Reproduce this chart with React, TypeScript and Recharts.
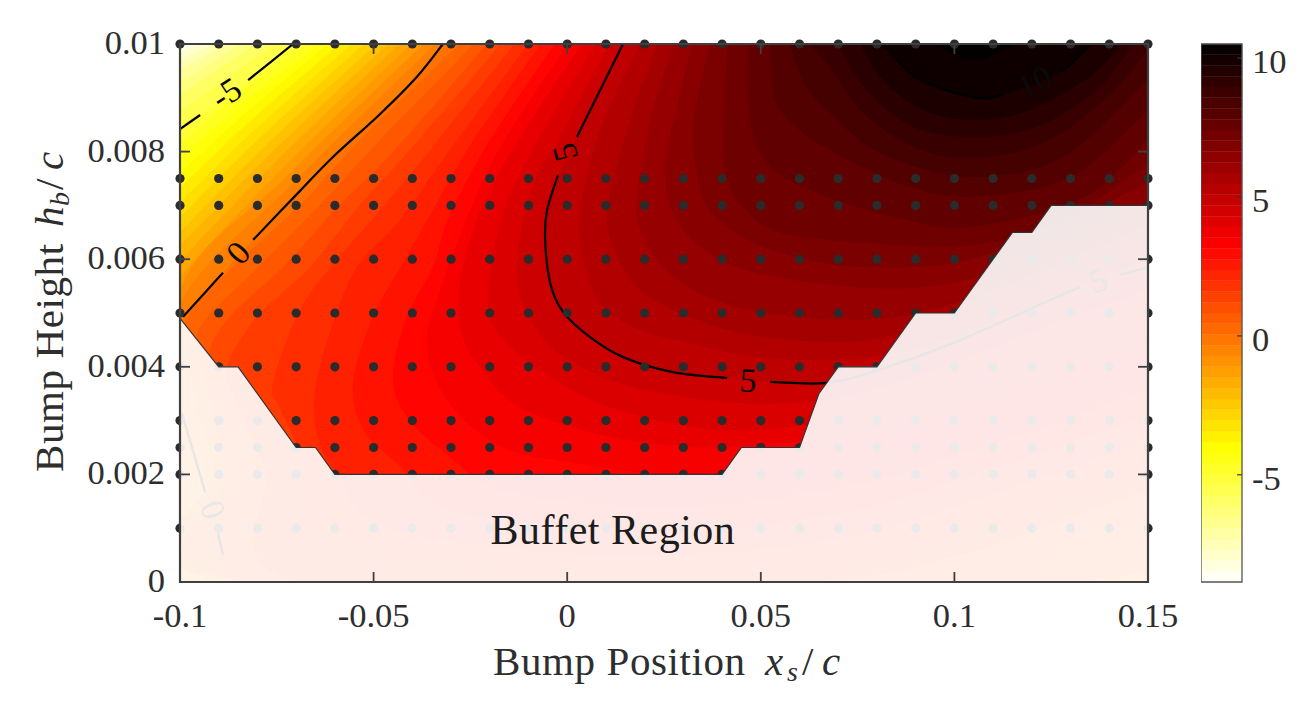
import React from 'react';
import { ScatterChart, Scatter, XAxis, YAxis, Label } from 'recharts';

const FONT = '"Liberation Serif", serif';
const INK = '#2e2e2e';

const xTicks = [-0.1, -0.05, 0, 0.05, 0.1, 0.15];
const xTickLabels = ['-0.1', '-0.05', '0', '0.05', '0.1', '0.15'];
const yTicks = [0, 0.002, 0.004, 0.006, 0.008, 0.01];
const yTickLabels = ['0', '0.002', '0.004', '0.006', '0.008', '0.01'];
const barTicks = [-5, 0, 5, 10];

// simulation points
const sampleX = [-0.1, -0.09, -0.08, -0.07, -0.06, -0.05, -0.04, -0.03, -0.02, -0.01, 0, 0.01, 0.02, 0.03, 0.04, 0.05, 0.06, 0.07, 0.08, 0.09, 0.1, 0.11, 0.12, 0.13, 0.14, 0.15];
const sampleY = [0.001, 0.002, 0.0025, 0.003, 0.004, 0.005, 0.006, 0.007, 0.0075, 0.01];

// contour curves {value >= level} as [x, y]
const cM8_5 = [[-0.0982, 0.01], [-0.1, 0.00994]];
const cM8 = [[-0.0948, 0.01], [-0.1, 0.00985]];
const cM7_5 = [[-0.0915, 0.01], [-0.1, 0.0097]];
const cM7 = [[-0.0884, 0.01], [-0.1, 0.00952]];
const cM6_5 = [[-0.0845, 0.01], [-0.1, 0.00929]];
const cM6 = [[-0.0806, 0.01], [-0.1, 0.00905]];
const cM5_5 = [[-0.0757, 0.01], [-0.1, 0.00874]];
const cM5 = [[-0.0708, 0.01], [-0.0824, 0.00933], [-0.0948, 0.00868], [-0.1, 0.00842]];
const cM4_67 = [[-0.0677, 0.01], [-0.0867, 0.00896], [-0.1, 0.00814]];
const cM4_29 = [[-0.0646, 0.01], [-0.0852, 0.00882], [-0.1, 0.00788]];
const cM3_9 = [[-0.0618, 0.01], [-0.0837, 0.00868], [-0.1, 0.0076]];
const cM3_51 = [[-0.0587, 0.01], [-0.0823, 0.00854], [-0.1, 0.00732]];
const cM3_13 = [[-0.0556, 0.01], [-0.0808, 0.0084], [-0.1, 0.00706]];
const cM2_74 = [[-0.0525, 0.01], [-0.0793, 0.00826], [-0.1, 0.00678]];
const cM2_35 = [[-0.0494, 0.01], [-0.0778, 0.00812], [-0.1, 0.00651]];
const cM1_96 = [[-0.0463, 0.01], [-0.0764, 0.00798], [-0.1, 0.00625]];
const cM1_58 = [[-0.0434, 0.01], [-0.0749, 0.00784], [-0.1, 0.00597]];
const cM1_19 = [[-0.0403, 0.01], [-0.0734, 0.0077], [-0.1, 0.00569]];
const cM0_8 = [[-0.0372, 0.01], [-0.072, 0.00757], [-0.1, 0.00543], [-0.1, 0.00208], [-0.0974, 0]];
const cM0_42 = [[-0.0341, 0.01], [-0.0706, 0.00743], [-0.1, 0.00515], [-0.1, 0.00264], [-0.0961, 0.00115], [-0.0935, 0]];
const c0 = [[-0.0321, 0.01], [-0.0388, 0.00939], [-0.0483, 0.0087], [-0.0605, 0.0079], [-0.069, 0.00727], [-0.0811, 0.00636], [-0.0992, 0.00493], [-0.1, 0.00487], [-0.1, 0.00316], [-0.0935, 0.00167], [-0.0902, 0.00091], [-0.0876, 0]];
const c0_35 = [[-0.0277, 0.01], [-0.0522, 0.00831], [-0.069, 0.00701], [-0.0858, 0.00589], [-0.0982, 0.00491], [-0.0982, 0.00431], [-0.0961, 0.00338], [-0.091, 0.00208], [-0.0845, 0], [0.15, 0.00032]];
const c0_74 = [[-0.0241, 0.01], [-0.0483, 0.00822], [-0.0638, 0.00701], [-0.0793, 0.00589], [-0.0935, 0.00487], [-0.0956, 0.00441], [-0.0935, 0.00375], [-0.0884, 0.00208], [-0.0819, 0], [0.1273, 0], [0.15, 0.00078]];
const c1_13 = [[-0.0207, 0.01], [-0.0445, 0.00803], [-0.0587, 0.00701], [-0.0734, 0.00585], [-0.0863, 0.005], [-0.0923, 0.00431], [-0.0902, 0.00366], [-0.0832, 0.00208], [-0.0755, 0], [0.1014, 0], [0.1247, 0.00059], [0.15, 0.00125]];
const c1_52 = [[-0.0171, 0.01], [-0.0406, 0.00803], [-0.0535, 0.00701], [-0.0664, 0.00585], [-0.0801, 0.00493], [-0.0879, 0.004], [-0.0858, 0.00338], [-0.078, 0.00208], [-0.069, 0], [0.0601, 0], [0.1014, 0.0005], [0.1247, 0.00106], [0.15, 0.00171]];
const c1_9 = [[-0.0137, 0.01], [-0.0354, 0.00803], [-0.0483, 0.00691], [-0.0595, 0.00599], [-0.069, 0.00506], [-0.076, 0.0037], [-0.0742, 0.00325], [-0.069, 0.00245], [-0.0587, 0.00097], [0.0085, 0.00007], [0.0601, 0.00022], [0.1014, 0.00097], [0.1247, 0.00152], [0.15, 0.00217]];
const c2_29 = [[-0.0101, 0.01], [-0.0303, 0.00803], [-0.0432, 0.00673], [-0.0543, 0.00585], [-0.0605, 0.00481], [-0.0651, 0.00357], [-0.0644, 0.0027], [-0.0595, 0.00203], [-0.0458, 0.00097], [0.0085, 0.0005], [0.0395, 0.00056], [0.0601, 0.00069], [0.0808, 0.00097], [0.1014, 0.00143], [0.1247, 0.00199], [0.15, 0.00264]];
const c2_68 = [[-0.0068, 0.01], [-0.0251, 0.00812], [-0.0354, 0.00682], [-0.0424, 0.00593], [-0.0502, 0.00493], [-0.0553, 0.0037], [-0.0527, 0.00283], [-0.044, 0.00221], [-0.0303, 0.00134], [0.0085, 0.00097], [0.0395, 0.00097], [0.0601, 0.00115], [0.0808, 0.00143], [0.1014, 0.0019], [0.1247, 0.00245], [0.15, 0.0031]];
const c3_06 = [[-0.0032, 0.01], [-0.0199, 0.00822], [-0.0303, 0.00682], [-0.0347, 0.00585], [-0.0414, 0.00493], [-0.045, 0.00381], [-0.0414, 0.00307], [-0.0303, 0.00232], [-0.0174, 0.00171], [0.0085, 0.00143], [0.0395, 0.00143], [0.0601, 0.00162], [0.0808, 0.0019], [0.1014, 0.00236], [0.1247, 0.00292], [0.15, 0.00357]];
const c3_45 = [[0.0002, 0.01], [-0.0161, 0.00822], [-0.0251, 0.00691], [-0.0336, 0.00524], [-0.0362, 0.00444], [-0.0336, 0.0037], [-0.0259, 0.00296], [-0.0148, 0.00245], [-0.0001, 0.00223], [0.0188, 0.00204], [0.042, 0.00193], [0.0601, 0.00208], [0.0808, 0.00236], [0.1014, 0.00283], [0.1247, 0.00338], [0.15, 0.00403]];
const c3_84 = [[0.0038, 0.01], [-0.0109, 0.0084], [-0.0199, 0.00729], [-0.0251, 0.00636], [-0.0277, 0.00556], [-0.0277, 0.00474], [-0.0233, 0.00407], [-0.0122, 0.00325], [0.0111, 0.0027], [0.0343, 0.00251], [0.0557, 0.00258], [0.0808, 0.00283], [0.1014, 0.00323], [0.1247, 0.00385], [0.15, 0.0045]];
const c4_23 = [[0.0072, 0.01], [-0.007, 0.00827], [-0.0153, 0.0071], [-0.0199, 0.0058], [-0.0199, 0.00493], [-0.0155, 0.00444], [-0.0044, 0.00381], [0.0129, 0.0032], [0.0387, 0.00283], [0.0627, 0.00292], [0.0808, 0.0032], [0.1014, 0.00366], [0.1247, 0.00431], [0.15, 0.00496]];
const c4_61 = [[0.0108, 0.01], [-0.0019, 0.00827], [-0.0083, 0.00747], [-0.0127, 0.00617], [-0.0122, 0.00533], [-0.0065, 0.00455], [0.0015, 0.00407], [0.017, 0.00362], [0.0428, 0.00333], [0.0653, 0.00338], [0.0808, 0.00361], [0.1014, 0.00413], [0.1247, 0.00478], [0.15, 0.00543]];
const c5 = [[0.0144, 0.01], [0.0025, 0.00827], [-0.0024, 0.00756], [-0.0052, 0.00691], [-0.0057, 0.00636], [-0.0044, 0.00556], [-0.0011, 0.00502], [0.0059, 0.00455], [0.0144, 0.00418], [0.0273, 0.0039], [0.0413, 0.00379], [0.0524, 0.00372], [0.0671, 0.0037], [0.0803, 0.00394], [0.0996, 0.00444], [0.1247, 0.00524], [0.1428, 0.00571], [0.15, 0.00585]];
const c5_39 = [[0.0188, 0.01], [0.0085, 0.0084], [0.0033, 0.00686], [0.0046, 0.00585], [0.0092, 0.00511], [0.0188, 0.00468], [0.0317, 0.00444], [0.049, 0.00418], [0.0686, 0.00413], [0.086, 0.00428], [0.1014, 0.00459], [0.1247, 0.0053], [0.15, 0.00602]];
const c5_77 = [[0.0232, 0.01], [0.0162, 0.00859], [0.0105, 0.00697], [0.0118, 0.00623], [0.018, 0.00548], [0.0273, 0.00506], [0.0413, 0.00468], [0.0575, 0.0045], [0.0782, 0.0045], [0.1014, 0.00496], [0.1247, 0.00561], [0.15, 0.00626]];
const c6_16 = [[0.0273, 0.01], [0.0214, 0.00859], [0.018, 0.00716], [0.0188, 0.00654], [0.0247, 0.00585], [0.0361, 0.0053], [0.0516, 0.005], [0.0782, 0.00487], [0.1014, 0.0052], [0.1247, 0.00584], [0.15, 0.00664]];
const c6_55 = [[0.0322, 0.01], [0.0258, 0.00803], [0.0253, 0.00747], [0.0273, 0.00686], [0.0343, 0.00623], [0.049, 0.00574], [0.0782, 0.00546], [0.1014, 0.00558], [0.1247, 0.00617], [0.15, 0.00701]];
const c6_94 = [[0.0369, 0.01], [0.0325, 0.00853], [0.0335, 0.0076], [0.0361, 0.00697], [0.0464, 0.00636], [0.0619, 0.00599], [0.0782, 0.00585], [0.1014, 0.00595], [0.1247, 0.00654], [0.15, 0.00742]];
const c7_32 = [[0.0415, 0.01], [0.0402, 0.00853], [0.0408, 0.0076], [0.0454, 0.00697], [0.055, 0.00649], [0.0782, 0.0063], [0.104, 0.00626], [0.1273, 0.00669], [0.15, 0.00779]];
const c7_71 = [[0.0467, 0.01], [0.0467, 0.00896], [0.049, 0.00809], [0.055, 0.00756], [0.0679, 0.00714], [0.0852, 0.00677], [0.104, 0.0066], [0.1332, 0.00714], [0.15, 0.00822]];
const c8_1 = [[0.0524, 0.01], [0.0537, 0.00896], [0.0601, 0.0084], [0.0679, 0.00803], [0.0852, 0.00742], [0.104, 0.00716], [0.1299, 0.00753], [0.15, 0.00877]];
const c8_48 = [[0.0575, 0.01], [0.0614, 0.00924], [0.0679, 0.00872], [0.0808, 0.00797], [0.104, 0.00753], [0.128, 0.0079], [0.15, 0.00933]];
const c8_87 = [[0.0627, 0.01], [0.0679, 0.00957], [0.0764, 0.00872], [0.0893, 0.00809], [0.104, 0.00788], [0.1229, 0.00816], [0.1394, 0.00901], [0.15, 0.00989]];
const c9_26 = [[0.0697, 0.01], [0.0774, 0.00914], [0.0893, 0.00846], [0.1048, 0.00827], [0.1213, 0.00846], [0.1368, 0.00914], [0.1461, 0.01]];
const c9_65 = [[0.0756, 0.01], [0.0816, 0.00933], [0.0919, 0.00877], [0.1048, 0.00859], [0.1195, 0.00877], [0.135, 0.00939], [0.1433, 0.01]];
const c10_03 = [[0.0816, 0.01], [0.0903, 0.00937], [0.1048, 0.00901], [0.1125, 0.00905], [0.1278, 0.00948], [0.1355, 0.01]];
const c10_42 = [[0.0945, 0.01], [0.1048, 0.0097], [0.1162, 0.01]];

const boxCorners = [[-0.1, 0.01], [0.15, 0.01], [0.15, 0], [-0.1, 0]];
const tailLeft = [[-0.1, 0], [0.15, 0], [0.15, 0.01]];
const tailBottom = [[0.15, 0], [0.15, 0.01]];
const tailCorner = [[0.15, 0.01]];

const bands: [number, number[][], number[][]][] = [
  [-8.5, cM8_5, tailLeft], [-8, cM8, tailLeft], [-7.5, cM7_5, tailLeft], [-7, cM7, tailLeft],
  [-6.5, cM6_5, tailLeft], [-6, cM6, tailLeft], [-5.5, cM5_5, tailLeft], [-5.06, cM5, tailLeft],
  [-4.67, cM4_67, tailLeft], [-4.29, cM4_29, tailLeft], [-3.9, cM3_9, tailLeft], [-3.51, cM3_51, tailLeft],
  [-3.13, cM3_13, tailLeft], [-2.74, cM2_74, tailLeft], [-2.35, cM2_35, tailLeft], [-1.96, cM1_96, tailLeft],
  [-1.58, cM1_58, tailLeft], [-1.19, cM1_19, tailLeft], [-0.8, cM0_8, tailBottom], [-0.42, cM0_42, tailBottom],
  [-0.03, c0, tailBottom], [0.35, c0_35, tailCorner], [0.74, c0_74, tailCorner], [1.13, c1_13, tailCorner],
  [1.52, c1_52, tailCorner], [1.9, c1_9, tailCorner], [2.29, c2_29, tailCorner], [2.68, c2_68, tailCorner],
  [3.06, c3_06, tailCorner], [3.45, c3_45, tailCorner], [3.84, c3_84, tailCorner], [4.23, c4_23, tailCorner],
  [4.61, c4_61, tailCorner], [5, c5, tailCorner], [5.39, c5_39, tailCorner], [5.77, c5_77, tailCorner],
  [6.16, c6_16, tailCorner], [6.55, c6_55, tailCorner], [6.94, c6_94, tailCorner], [7.32, c7_32, tailCorner],
  [7.71, c7_71, tailCorner], [8.1, c8_1, tailCorner], [8.48, c8_48, tailCorner], [8.87, c8_87, tailCorner],
  [9.26, c9_26, tailCorner], [9.65, c9_65, tailCorner], [10.03, c10_03, tailCorner], [10.42, c10_42, tailCorner],
];

// labelled contour lines, broken where the clabel sits
const contourLines = [
  [[-0.0708, 0.01], [-0.0824, 0.00933]],
  [[-0.0948, 0.00868], [-0.1, 0.00842]],
  [[-0.0321, 0.01], [-0.0388, 0.00939], [-0.0483, 0.0087], [-0.0605, 0.0079], [-0.069, 0.00727], [-0.0811, 0.00636]],
  [[-0.0889, 0.00575], [-0.0992, 0.00493]],
  [[-0.0995, 0.00314], [-0.0935, 0.00167]],
  [[-0.0902, 0.00091], [-0.0889, 0.0005]],
  [[0.0144, 0.01], [0.0025, 0.00827]],
  [[-0.0024, 0.00756], [-0.0052, 0.00691], [-0.0057, 0.00636], [-0.0044, 0.00556], [-0.0011, 0.00502], [0.0059, 0.00455], [0.0144, 0.00418], [0.0273, 0.0039], [0.0413, 0.00379]],
  [[0.0524, 0.00372], [0.0671, 0.0037], [0.0803, 0.00394], [0.0996, 0.00444], [0.1247, 0.00524], [0.1324, 0.00548]],
  [[0.1428, 0.00571], [0.15, 0.00585]],
  [[0.0816, 0.01], [0.0903, 0.00937], [0.1048, 0.00901], [0.1125, 0.00905]],
  [[0.1278, 0.00948], [0.1355, 0.01]],
];

const contourLabels = [
  { x: -0.0881, y: 0.00909, text: '-5', angle: -33 },
  { x: -0.085, y: 0.00612, text: '0', angle: -48 },
  { x: -0.0006, y: 0.00799, text: '5', angle: -105 },
  { x: 0.0467, y: 0.00375, text: '5', angle: 3 },
  { x: 0.1208, y: 0.00929, text: '10', angle: -28 },
  { x: 0.1371, y: 0.00561, text: '5', angle: -20 },
  { x: -0.0915, y: 0.00134, text: '0', angle: 70 },
];

const buffetEdge = [[-0.1, 0.0049], [-0.09, 0.004], [-0.085, 0.004], [-0.07, 0.0025], [-0.065, 0.0025], [-0.06, 0.002], [0.04, 0.002], [0.045, 0.0025], [0.06, 0.0025], [0.065, 0.0035], [0.07, 0.004], [0.08, 0.004], [0.09, 0.005], [0.1, 0.005], [0.115, 0.0065], [0.12, 0.0065], [0.125, 0.007], [0.15, 0.007]];
const buffetTail = [[0.15, 0], [-0.1, 0]];
const buffetLabel = [{ x: 0.0118, y: 0.00097, text: 'Buffet Region' }];

const BAR_MIN = -8.86;
const BAR_MAX = 10.51;
const BAR_STEPS = 50;

// axes are drawn as series so they sit on top of the filled contours
const X_TICK_LEN = 0.00258;
const Y_TICK_LEN = 0.000186;
const frameSegments = [
  ...xTicks.flatMap((t) => [[[t, 0], [t, Y_TICK_LEN]], [[t, 0.01], [t, 0.01 - Y_TICK_LEN]]]),
  ...yTicks.flatMap((t) => [[[-0.1, t], [-0.1 + X_TICK_LEN, t]], [[0.15, t], [0.15 - X_TICK_LEN, t]]]),
];

// reversed MATLAB hot
const hot = (v: number) => {
  const s = Math.min(1, Math.max(0, (BAR_MAX - v) / (BAR_MAX - BAR_MIN)));
  const r = Math.min(1, s / 0.375);
  const g = Math.min(1, Math.max(0, (s - 0.375) / 0.375));
  const b = Math.min(1, Math.max(0, (s - 0.75) / 0.25));
  return `rgb(${Math.round(r * 255)},${Math.round(g * 255)},${Math.round(b * 255)})`;
};

const pts = (rows: number[][]) => rows.map(([x, y]) => ({ x, y }));
const noDot = () => <g />;

// smooth through the first n points, straight after that
const pathOf = (p: { x: number; y: number }[], n: number, closed: boolean) => {
  let d = `M${p[0].x},${p[0].y}`;
  for (let i = 0; i < p.length - 1; i++) {
    if (i < n - 1) {
      const a = p[Math.max(i - 1, 0)];
      const b = p[i];
      const c = p[i + 1];
      const e = p[Math.min(i + 2, n - 1)];
      d += `C${b.x + (c.x - a.x) / 6},${b.y + (c.y - a.y) / 6} ${c.x - (e.x - b.x) / 6},${c.y - (e.y - b.y) / 6} ${c.x},${c.y}`;
    } else {
      d += `L${p[i + 1].x},${p[i + 1].y}`;
    }
  }
  return closed ? d + 'Z' : d;
};

const AxisTickX = (props: any) => (
  <text x={props.x} y={props.y + 53} textAnchor="middle" fontFamily={FONT} fontSize={34.5} fill={INK}>
    {xTickLabels[props.index]}
  </text>
);

const AxisTickY = (props: any) => (
  <text x={165} y={props.y + 10} textAnchor="end" fontFamily={FONT} fontSize={34.5} fill={INK}>
    {yTickLabels[props.index]}
  </text>
);

const BarTick = (props: any) => (
  <text x={51} y={props.y + 15} textAnchor="start" fontFamily={FONT} fontSize={34.5} fill={INK}>
    {props.payload.value}
  </text>
);

const XTitle = () => (
  <text y={675} fontFamily={FONT} fontSize={41} fill={INK}>
    <tspan x={493} letterSpacing={0.6}>Bump Position</tspan>
    <tspan x={765} fontStyle="italic">x</tspan>
    <tspan x={787} y={681} fontStyle="italic" fontSize={28}>s</tspan>
    <tspan x={802} y={675}>/</tspan>
    <tspan x={822} fontStyle="italic">c</tspan>
  </text>
);

const YTitle = () => (
  <text y={63} transform="rotate(-90) translate(-472,0)" fontFamily={FONT} fontSize={41} fill={INK}>
    <tspan x={0} letterSpacing={0.6}>Bump Height</tspan>
    <tspan x={245} fontStyle="italic">h</tspan>
    <tspan x={266} y={69} fontStyle="italic" fontSize={28}>b</tspan>
    <tspan x={282} y={63}>/</tspan>
    <tspan x={302} fontStyle="italic">c</tspan>
  </text>
);

const ContourText = (props: any) => (
  <text
    x={props.cx}
    y={props.cy}
    transform={`rotate(${props.payload.angle} ${props.cx} ${props.cy})`}
    textAnchor="middle"
    dominantBaseline="central"
    fontFamily={FONT}
    fontSize={34}
    fill="#0a0a0a"
  >
    {props.payload.text}
  </text>
);

const BuffetText = (props: any) => (
  <text x={props.cx} y={props.cy} textAnchor="middle" dominantBaseline="central" fontFamily={FONT} fontSize={42} letterSpacing={0.5} fill="#1c1c1c">
    {props.payload.text}
  </text>
);

const dotGrid = sampleY.flatMap((y) => sampleX.map((x) => ({ x, y })));
const barStep = (BAR_MAX - BAR_MIN) / BAR_STEPS;
const barSteps = Array.from({ length: BAR_STEPS }, (_, i) => BAR_MIN + barStep * i);

export default function App() {
  return (
    <div style={{ position: 'absolute', left: 0, top: 0, width: 1313, height: 708 }}>
      <div style={{ position: 'absolute', left: 0, top: 0 }}>
        <ScatterChart width={1313} height={708} margin={{ top: 0, right: 0, bottom: 0, left: 0 }}>
          <XAxis xAxisId={0} dataKey="x" type="number" domain={[-0.1, 0.15]} ticks={xTicks} interval={0} allowDataOverflow height={126} tickSize={-10} tickLine={false} axisLine={false} tick={<AxisTickX />}>
            <Label content={<XTitle />} />
          </XAxis>
          <YAxis yAxisId={0} dataKey="y" type="number" domain={[0, 0.01]} ticks={yTicks} interval={0} allowDataOverflow width={180} tickSize={-10} tickLine={false} axisLine={false} tick={<AxisTickY />}>
            <Label content={<YTitle />} />
          </YAxis>
          <XAxis xAxisId="top" orientation="top" dataKey="x" type="number" domain={[-0.1, 0.15]} height={44} tick={false} tickLine={false} axisLine={false} />
          <YAxis yAxisId="right" orientation="right" dataKey="y" type="number" domain={[0, 0.01]} width={165} tick={false} tickLine={false} axisLine={false} />

          <Scatter xAxisId={0} yAxisId={0} data={pts(boxCorners)} shape={noDot} isAnimationActive={false}
            line={(p: any) => <path d={pathOf(p.points, 0, true)} fill={hot(-8.75)} stroke="none" />} />
          {bands.map(([level, curve, tail], i) => {
            const next = i + 1 < bands.length ? bands[i + 1][0] : BAR_MAX;
            return (
              <Scatter key={level} xAxisId={0} yAxisId={0} data={pts([...curve, ...tail])} shape={noDot} isAnimationActive={false}
                line={(p: any) => <path d={pathOf(p.points, curve.length, true)} fill={hot(level + (next - level) * 0.15)} stroke="none" />} />
            );
          })}
          {contourLines.map((seg, i) => (
            <Scatter key={'line' + i} xAxisId={0} yAxisId={0} data={pts(seg)} shape={noDot} isAnimationActive={false}
              line={(p: any) => <path d={pathOf(p.points, seg.length, false)} fill="none" stroke="#000" strokeWidth={2.2} />} />
          ))}
          <Scatter xAxisId={0} yAxisId={0} data={contourLabels} shape={<ContourText />} isAnimationActive={false} />
          <Scatter xAxisId="top" yAxisId="right" data={dotGrid} shape={(p: any) => <circle cx={p.cx} cy={p.cy} r={4.6} fill="#2b2b2b" />} isAnimationActive={false} />
          <Scatter xAxisId={0} yAxisId={0} data={pts([...buffetEdge, ...buffetTail])} shape={noDot} isAnimationActive={false}
            line={(p: any) => <path d={pathOf(p.points, 0, true)} fill="#fff" fillOpacity={0.9} stroke="none" />} />
          <Scatter xAxisId={0} yAxisId={0} data={pts(buffetEdge)} shape={noDot} isAnimationActive={false}
            line={(p: any) => <path d={pathOf(p.points, 0, false)} fill="none" stroke="#333" strokeWidth={1.2} />} />
          <Scatter xAxisId={0} yAxisId={0} data={buffetLabel} shape={<BuffetText />} isAnimationActive={false} />
          {frameSegments.map((seg, i) => (
            <Scatter key={'tick' + i} xAxisId="top" yAxisId="right" data={pts(seg)} shape={noDot} isAnimationActive={false}
              line={(p: any) => <path d={pathOf(p.points, 0, false)} fill="none" stroke="#404040" strokeWidth={1.8} />} />
          ))}
          <Scatter xAxisId="top" yAxisId="right" data={pts(boxCorners)} shape={noDot} isAnimationActive={false}
            line={(p: any) => <path d={pathOf(p.points, 0, true)} fill="none" stroke="#404040" strokeWidth={2.2} />} />
        </ScatterChart>
      </div>
      <div style={{ position: 'absolute', left: 1201, top: 0 }}>
        <ScatterChart width={112} height={708} margin={{ top: 44, right: 0, bottom: 126, left: 0 }}>
          <XAxis dataKey="x" type="number" domain={[0, 1]} hide />
          <YAxis orientation="right" dataKey="y" type="number" domain={[BAR_MIN, BAR_MAX]} ticks={barTicks} interval={0} width={71} tickSize={-5} tickLine={false} axisLine={false} tick={<BarTick />} />
          {barSteps.map((lo) => (
            <Scatter key={lo} data={pts([[0, lo], [1, lo], [1, lo + barStep], [0, lo + barStep]])} shape={noDot} isAnimationActive={false}
              line={(p: any) => <path d={pathOf(p.points, 0, true)} fill={hot(lo + barStep / 2)} stroke={hot(lo + barStep / 2)} strokeWidth={0.4} />} />
          ))}
          {barTicks.map((t) => (
            <Scatter key={'t' + t} data={pts([[1, t], [0.88, t]])} shape={noDot} isAnimationActive={false}
              line={(p: any) => <path d={pathOf(p.points, 0, false)} fill="none" stroke="#333" strokeWidth={1.2} />} />
          ))}
          <Scatter data={pts([[0, BAR_MIN], [1, BAR_MIN], [1, BAR_MAX], [0, BAR_MAX]])} shape={noDot} isAnimationActive={false}
            line={(p: any) => <path d={pathOf(p.points, 0, true)} fill="none" stroke="#555" strokeWidth={1.3} />} />
        </ScatterChart>
      </div>
    </div>
  );
}
